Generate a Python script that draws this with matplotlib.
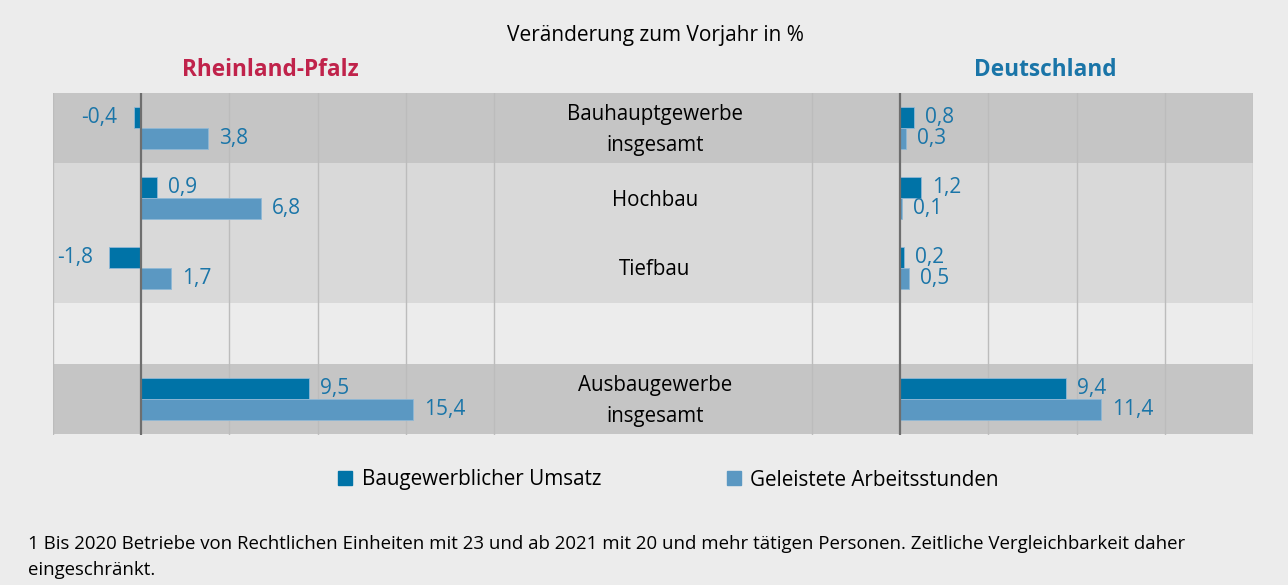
import numpy as np
import matplotlib.pyplot as plt
import matplotlib.transforms as mtransforms
from matplotlib.lines import Line2D
from matplotlib.patches import Rectangle

plt.rcParams['font.family'] = ['Open Sans', 'DejaVu Sans']

# data
categories = ["Bauhauptgewerbe\ninsgesamt", "Hochbau", "Tiefbau", "Ausbaugewerbe\ninsgesamt"]
rlp_umsatz = [-0.4, 0.9, -1.8, 9.5]
rlp_stunden = [3.8, 6.8, 1.7, 15.4]
de_umsatz = [0.8, 1.2, 0.2, 9.4]
de_stunden = [0.3, 0.1, 0.5, 11.4]
series_names = ["Baugewerblicher Umsatz", "Geleistete Arbeitsstunden"]

# layout / style
bg = "#ececec"
band_dark = "#c5c5c5"
band_light = "#d9d9d9"
band_colors = [band_dark, band_light, band_light, band_dark]
c_dark = "#0073a7"
c_light = "#5b98c2"
label_col = "#1a75a8"
ypos = np.array([0, 1, 2, 3.87])
bar_h = 0.3
offset = 43.03  # x shift of the Deutschland panel

fig = plt.figure(figsize=(12.88, 5.85), dpi=100, facecolor=bg)
ax = fig.add_axes([53/1288, 1-435/585, 1200/1288, 342/585])
ax.set_facecolor(bg)
ax.set_xlim(-5, 20 + offset)
ax.set_ylim(ypos[-1] + 0.52, -0.5)

# category bands
for y, col in zip(ypos, band_colors):
    ax.add_patch(Rectangle((-5, y - 0.5), 25 + offset, 1, color=col, zorder=0, lw=0))

# grid lines
for base in (0, offset):
    for g in range(-5, 25, 5):
        if g == 0:
            continue
        ax.axvline(base + g, color="#bcbcbc", lw=1, zorder=1)
    ax.axvline(base, color="#6e6e6e", lw=1.6, zorder=3)

def fmt(v):
    return f"{v:.1f}".replace(".", ",")

def draw(vals, base, dy, color):
    ax.barh(ypos + dy, vals, left=base, height=bar_h, color=color,
            edgecolor="#8fb8d6", linewidth=0.6, zorder=2)
    for y, v in zip(ypos + dy, vals):
        if v < 0:
            ax.annotate(fmt(v), (base + v, y), xytext=(-12, 0), textcoords="offset points",
                        ha="right", va="center", color=label_col, fontsize=15)
        else:
            ax.annotate(fmt(v), (base + v, y), xytext=(8, 0), textcoords="offset points",
                        ha="left", va="center", color=label_col, fontsize=15)

draw(rlp_umsatz, 0, -0.15, c_dark)
draw(rlp_stunden, 0, 0.15, c_light)
draw(de_umsatz, offset, -0.15, c_dark)
draw(de_stunden, offset, 0.15, c_light)

trans = mtransforms.blended_transform_factory(ax.transAxes, ax.transData)
for y, cat in zip(ypos, categories):
    ax.text(0.5017, y + 0.03, cat, transform=trans, ha="center", va="center",
            fontsize=14.8, color="black", linespacing=1.6)

ax.set_xticks([])
ax.set_yticks([])
for s in ax.spines.values():
    s.set_visible(False)

fig.text(655/1288, 1-35/585, "Veränderung zum Vorjahr in %", ha="center", va="center", fontsize=15)
fig.text(270/1288, 1-70/585, "Rheinland-Pfalz", ha="center", va="center", fontsize=16.3,
         fontweight="bold", color="#c0234b")
fig.text(1045/1288, 1-70/585, "Deutschland", ha="center", va="center", fontsize=16.3,
         fontweight="bold", color="#1a75a8")

handles = [Line2D([], [], marker="s", ls="", color=c, markersize=9.5) for c in (c_dark, c_light)]
fig.legend(handles, series_names, loc="center", bbox_to_anchor=(667/1288, 1-480/585), ncol=2,
           frameon=False, fontsize=14.9, handletextpad=0.3, columnspacing=5.9, handlelength=1)

fig.text(28/1288, 1-535/585,
         "1 Bis 2020 Betriebe von Rechtlichen Einheiten mit 23 und ab 2021 mit 20 und mehr tätigen Personen. Zeitliche Vergleichbarkeit daher\neingeschränkt.",
         ha="left", va="top", fontsize=13.4, linespacing=1.6)

fig.savefig("out.png", dpi=100, facecolor=bg)
